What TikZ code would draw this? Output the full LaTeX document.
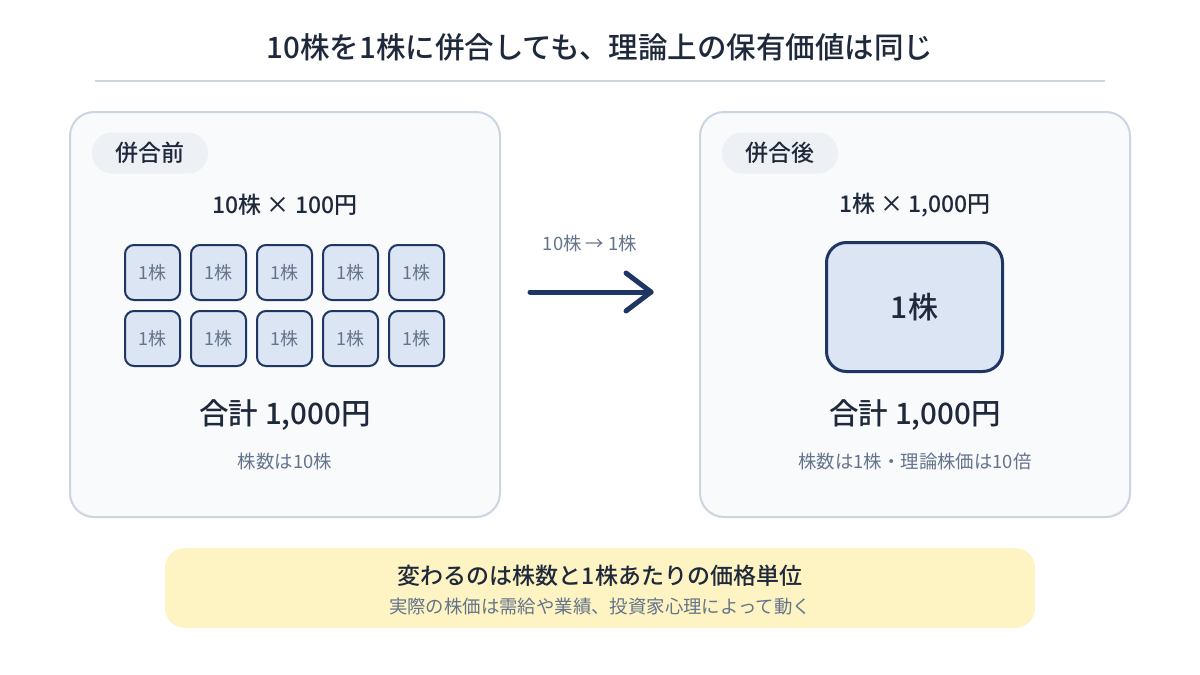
\documentclass[tikz,border=0pt]{standalone}
\usepackage{fontspec}
\setmainfont{Noto Sans CJK JP}
\newfontfamily\medium{Noto Sans CJK JP Medium}
\definecolor{ink}{HTML}{1E293B}
\definecolor{muted}{HTML}{64748B}
\definecolor{navy}{HTML}{1F3563}
\definecolor{rulegray}{HTML}{CBD5E1}
\definecolor{panelbg}{HTML}{F8FAFC}
\definecolor{pillbg}{HTML}{EDF1F5}
\definecolor{sharefill}{HTML}{DCE5F3}
\definecolor{notebg}{HTML}{FEF3C2}
\tikzset{
  panel/.style={draw=rulegray, line width=2pt, fill=panelbg, rounded corners=24pt},
  pill/.style={fill=pillbg, rounded corners=20pt, minimum width=116pt, minimum height=41pt, text=ink, font=\fontsize{23}{27}\medium},
  sharebox/.style={draw=navy, line width=2pt, fill=sharefill, rounded corners=9pt, minimum width=55pt, minimum height=55pt, text=muted, font=\fontsize{18}{21}\selectfont},
  bigshare/.style={draw=navy, line width=3pt, fill=sharefill, rounded corners=20pt, minimum width=176pt, minimum height=129pt, text=ink, font=\fontsize{30}{34}\medium},
  headline/.style={text=ink, font=\fontsize{23}{27}\medium},
  total/.style={text=ink, font=\fontsize{29.5}{34}\medium},
  remark/.style={text=muted, font=\fontsize{18.4}{22}\selectfont}
}
\begin{document}
\begin{tikzpicture}[x=1pt, y=-1pt]
        \useasboundingbox[fill=white] (0,0) rectangle (1200,675);

        % Title
        \node[text=ink, font=\fontsize{29.5}{34}\medium] (title) at (600,47) {10株を1株に併合しても、理論上の保有価値は同じ};
        \draw[rulegray, line width=1.5pt] (95,81) -- (1105,81);

        % Before
        \draw[panel] (70,112) rectangle (500,517);
        \node[pill] (before) at (150,153) {併合前};
        \node[headline] (beforecalc) at (285,205) {10株 × 100円};
        \foreach \i in {0,...,4}
            \foreach \j in {0,1}
                \node[sharebox] (s\i\j) at (152.5+66*\i, 272.5+66*\j) {1株};
        \node[total] (beforesum) at (285,415) {合計 1,000円};
        \node[remark] (beforenote) at (285,462) {株数は10株};

        % Arrow
        \node[remark] (ratio) at (590,243) {10株 → 1株};
        \coordinate (arrowstart) at (530,292);
        \coordinate (arrowtip) at (651,292);
        \draw[navy, line width=5pt, line cap=round, line join=round] (arrowstart) -- (arrowtip);
        \draw[navy, line width=5pt, line cap=round, line join=round] (626,273) -- (arrowtip) -- (626,311);

        % After
        \draw[panel] (700,112) rectangle (1130,517);
        \node[pill] (after) at (780,153) {併合後};
        \node[headline] (aftercalc) at (915,205) {1株 × 1,000円};
        \node[bigshare] (big) at (914.5,307) {1株};
        \node[total] (aftersum) at (915,415) {合計 1,000円};
        \node[remark] (afternote) at (915,462) {株数は1株・理論株価は10倍};

        % Note
        \fill[notebg, rounded corners=20pt] (165,548) rectangle (1035,628);
        \node[text=ink, font=\fontsize{23}{27}\medium] (notemain) at (600,576) {変わるのは株数と1株あたりの価格単位};
        \node[remark] (notesub) at (600,607) {実際の株価は需給や業績、投資家心理によって動く};
\end{tikzpicture}
\end{document}
